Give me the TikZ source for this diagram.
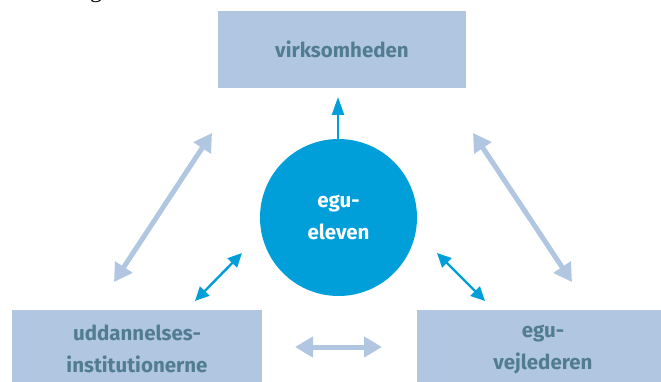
\documentclass[tikz,border=0pt]{standalone}
\usepackage{fontspec}
\setmainfont{Liberation Serif}
\newfontfamily\boxfont{Fira Sans}
\usetikzlibrary{arrows.meta}
\definecolor{boxblue}{HTML}{B0C6E1}
\definecolor{boxtext}{HTML}{527D91}
\definecolor{circblue}{HTML}{009FDA}
\tikzset{
  x=1pt, y=-1pt,
  lbox/.style={fill=boxblue, draw=none, font=\boxfont\bfseries\fontsize{20.5}{32}\selectfont, text=boxtext, align=center},
  bigarrow/.style={draw=boxblue, line width=5pt, {Triangle[length=18pt,width=20pt]}-{Triangle[length=18pt,width=20pt]}},
  smallarrow/.style={draw=circblue, line width=2.4pt, {Triangle[length=14pt,width=13pt]}-{Triangle[length=14pt,width=13pt]}},
  uparrow/.style={draw=circblue, line width=2.4pt, -{Triangle[length=18pt,width=12pt]}}
}
\begin{document}
\begin{tikzpicture}
\useasboundingbox (0,0) rectangle (661,382);
\begin{scope}
\clip (0,0) rectangle (661,382);
\node[font=\fontsize{24}{24}\selectfont, anchor=base] (frag) at (96,-2) {g};
\node[lbox, minimum width=248pt, minimum height=77pt] (virk) at (342,49.5) {virksomheden};
\node[lbox, minimum width=250pt, minimum height=78pt] (udd) at (137,349) {uddannelses-\\institutionerne};
\node[lbox, minimum width=252pt, minimum height=78pt] (vejl) at (543,349) {egu-\\vejlederen};
\end{scope}
\node[circle, fill=circblue, minimum size=157pt, inner sep=0pt, text=white, align=center,
      font=\boxfont\bfseries\fontsize{20.5}{32}\selectfont] (elev) at (338.5,217.5) {egu-\\eleven};
% coordinates for arrow ends
\coordinate (upS) at (338,140);
\coordinate (upT) at (338,97);
\coordinate (l1) at (212,133);
\coordinate (l2) at (114,282);
\coordinate (r1) at (473,133);
\coordinate (r2) at (572,282);
\coordinate (h1) at (295,347);
\coordinate (h2) at (382,347);
\coordinate (sl1) at (242,253);
\coordinate (sl2) at (195,301);
\coordinate (sr1) at (437,253);
\coordinate (sr2) at (485,301);
\draw[uparrow] (upS) -- (upT);
\draw[bigarrow] (l1) -- (l2);
\draw[bigarrow] (r1) -- (r2);
\draw[bigarrow] (h1) -- (h2);
\draw[smallarrow] (sl1) -- (sl2);
\draw[smallarrow] (sr1) -- (sr2);
\end{tikzpicture}
\end{document}
